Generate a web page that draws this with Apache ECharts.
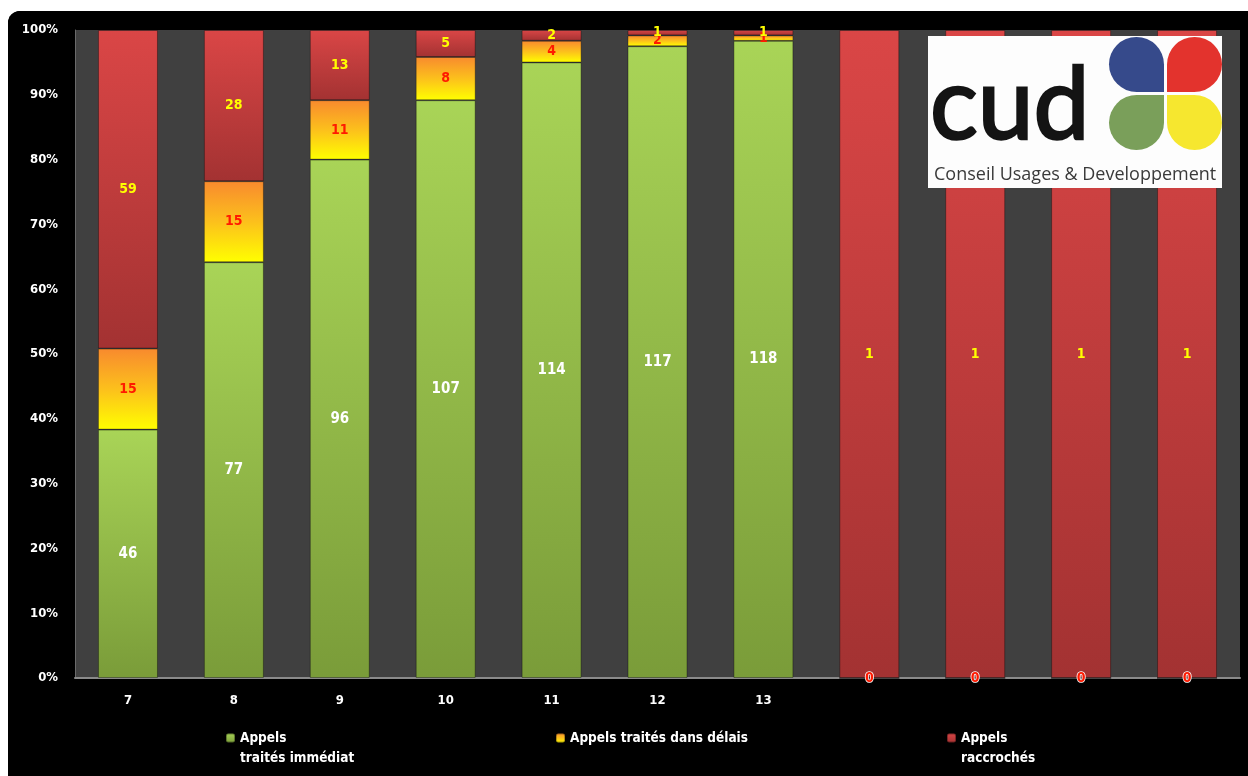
<!DOCTYPE html>
<html>
<head>
<meta charset="utf-8">
<script src="https://cdn.jsdelivr.net/npm/echarts@6/dist/echarts.min.js"></script>
<style>
html,body{margin:0;padding:0;background:#fff;width:1248px;height:776px;overflow:hidden;}
#frame{position:absolute;left:8px;top:11px;width:1240px;height:765px;background:#000;border-top-left-radius:12px;overflow:hidden;}
#chart{width:1240px;height:765px;}
</style>
</head>
<body>
<div id="frame"><div id="chart"></div></div>
<script>
const categories = ['7','8','9','10','11','12','13','','','',''];
const immediat   = [46,77,96,107,114,117,118,0,0,0,0];
const delais     = [15,15,11,8,4,2,1,0,0,0,0];
const raccroches = [59,28,13,5,2,1,1,1,1,1,1];
const seriesNames = ['Appels\ntraités immédiat','Appels traités dans délais','Appels\nraccrochés'];

const totals = categories.map((c,i)=>immediat[i]+delais[i]+raccroches[i]);
function pct(arr){ return arr.map((v,i)=>({value: totals[i] ? v/totals[i]*100 : 0, raw: v})); }

function grad(top, bottom, mid){
  const stops = [{offset:0,color:top}];
  if (mid) stops.push({offset:0.5,color:mid});
  stops.push({offset:1,color:bottom});
  return new echarts.graphic.LinearGradient(0,0,0,1,stops);
}
const labelFont = 'DejaVu Sans Condensed';

function buildData(arr, zeroStyle){
  return pct(arr).map(d=>{
    const item = {value:d.value, raw:d.raw};
    if (d.raw === 0) item.label = zeroStyle;
    return item;
  });
}
const legendText = {color:'#fff',fontFamily:labelFont,fontWeight:'bold',fontSize:13.5,lineHeight:20};

const chart = echarts.init(document.getElementById('chart'));
const option = {
  backgroundColor:'#000',
  animation:false,
  grid:{left:67,right:8,top:19,bottom:98,show:true,backgroundColor:'#404040',borderWidth:0},
  xAxis:{
    type:'category', data:categories,
    axisLine:{show:true,lineStyle:{color:'#8a8a8a',width:2}},
    axisTick:{show:false},
    axisLabel:{color:'#fff',fontFamily:labelFont,fontWeight:'bold',fontSize:13,margin:16}
  },
  yAxis:{
    type:'value', min:0, max:100, interval:10,
    axisLine:{show:true,lineStyle:{color:'#6a6a6a',width:1}},
    axisTick:{show:false},
    splitLine:{show:false},
    axisLabel:{color:'#fff',fontFamily:labelFont,fontWeight:'bold',fontSize:13,margin:17,formatter:'{value}%'}
  },
  legend:[
    {data:[seriesNames[0]],left:212,top:692,itemWidth:9,itemHeight:9,
     formatter:n=>'\n'+n, textStyle:legendText},
    {data:[seriesNames[1]],left:542,top:712,itemWidth:9,itemHeight:9,
     textStyle:legendText},
    {data:[seriesNames[2]],left:933,top:692,itemWidth:9,itemHeight:9,
     formatter:n=>'\n'+n, textStyle:legendText}
  ],
  series:[
    {
      name:seriesNames[0], type:'bar', stack:'total', barWidth:60,
      itemStyle:{color:grad('#a9d457','#7a9c39'),borderColor:'rgba(0,0,0,0.35)',borderWidth:1},
      label:{show:true,position:'inside',color:'#fff',fontFamily:labelFont,fontWeight:'bold',fontSize:15,
             formatter:p=>p.data.raw},
      data:buildData(immediat,{show:false})
    },
    {
      name:seriesNames[1], type:'bar', stack:'total', barWidth:60,
      itemStyle:{color:grad('#f88a2e','#ffff00','#fcc01c'),borderColor:'rgba(0,0,0,0.3)',borderWidth:1},
      label:{show:true,position:'inside',color:'#ff1a00',fontFamily:labelFont,fontWeight:'bold',fontSize:14,
             formatter:p=>p.data.raw},
      data:buildData(delais,{show:true,textBorderColor:'#fff',textBorderWidth:1.5})
    },
    {
      name:seriesNames[2], type:'bar', stack:'total', barWidth:60,
      itemStyle:{color:grad('#da4646','#a33232'),borderColor:'rgba(0,0,0,0.35)',borderWidth:1},
      label:{show:true,position:'inside',color:'#ffff00',fontFamily:labelFont,fontWeight:'bold',fontSize:14,
             formatter:p=>p.data.raw},
      data:buildData(raccroches,{show:false})
    }
  ],
  graphic:[
    {type:'rect', z:100, shape:{x:920,y:25,width:294,height:152}, style:{fill:'#fdfdfd'}},
    {type:'rect', z:101, shape:{x:1101,y:26,width:55,height:55,r:[28,28,0,28]}, style:{fill:'#364a8b'}},
    {type:'rect', z:101, shape:{x:1159,y:26,width:55,height:55,r:[28,28,28,0]}, style:{fill:'#e3332d'}},
    {type:'rect', z:101, shape:{x:1101,y:84,width:55,height:55,r:[28,0,28,28]}, style:{fill:'#7a9f5a'}},
    {type:'rect', z:101, shape:{x:1159,y:84,width:55,height:55,r:[0,28,28,28]}, style:{fill:'#f6e72f'}},
    {type:'text', z:101, style:{x:922,y:146,text:'cud',fill:'#141414',stroke:'#141414',lineWidth:2.5,font:'normal 100px Lato',verticalAlign:'bottom',align:'left'}},
    {type:'text', z:101, style:{x:926,y:164,text:'Conseil Usages & Developpement',fill:'#3a3a3a',font:'normal 18px "Open Sans"',verticalAlign:'middle',align:'left'}}
  ]
};
chart.setOption(option);
</script>
</body>
</html>
